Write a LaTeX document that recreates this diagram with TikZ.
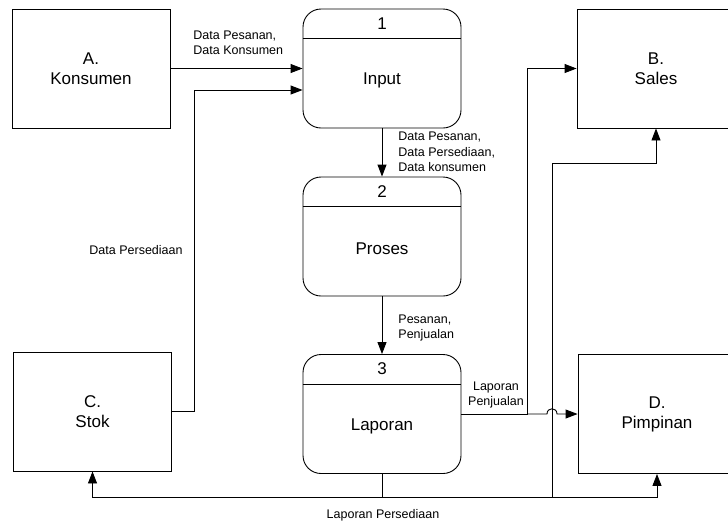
\documentclass[tikz,border=0pt]{standalone}
\usepackage{fontspec}
\setmainfont{Liberation Sans}
\usetikzlibrary{arrows.meta}

\tikzset{
  entity/.style={draw, minimum width=158pt, minimum height=119pt, align=center, font=\fontsize{17}{20}\selectfont},
  proc/.style={draw, rounded corners=18pt, minimum width=158pt, minimum height=119pt},
  ptext/.style={font=\fontsize{17}{20}\selectfont},
  lbl/.style={inner sep=0pt, align=left, font=\fontsize{12.5}{15.5}\selectfont},
  flow/.style={-{Triangle[length=12pt,width=9pt]}}
}

\begin{document}
\begin{tikzpicture}[x=1pt, y=-1pt, line width=0.9pt]
    \useasboundingbox (0,0) rectangle (728,523);

    % External entities
    \node[entity] (konsumen) at (91,68.5) {A.\\Konsumen};
    \node[entity] (sales) at (656,68.5) {B.\\Sales};
    \node[entity] (stok) at (92.5,411.5) {C.\\Stok};
    \node[entity] (pimpinan) at (657,414) {D.\\Pimpinan};

    % Processes
    \foreach \num/\p/\txt/\y in {1/input/Input/68.5, 2/proses/Proses/236.5, 3/laporan/Laporan/414} {
        \node[proc] (\p) at (382,\y) {};
        \draw ([yshift=-30pt]\p.north west) -- ([yshift=-30pt]\p.north east);
        \node[ptext] (\p-num) at ([yshift=-15pt]\p.north) {\num};
        \node[ptext] (\p-txt) at ([yshift=-12pt]\p.center) {\txt};
    }

    % Bends
    \coordinate (s1) at (194,90);
    \coordinate (j1) at (527,414);
    \coordinate (bot) at (382,497);
    \coordinate (up) at (552,497);
    \coordinate (sb) at (552,163);

    % Data flows
    \draw[flow] (konsumen) -- (input);
    \draw[flow] (stok.east) -| (s1) -- (input.west |- s1);
    \draw[flow] (input) -- (proses);
    \draw[flow] (proses) -- (laporan);
    \draw[flow] (laporan.east) -- (j1) |- (sales.west);
    \draw[flow] (j1) -- ++(20,0) .. controls +(0,-7) and +(0,-7) .. ++(10,0) -- (pimpinan.west);
    \draw[flow] (laporan) -- (bot) -| (stok);
    \draw[flow] (bot) -| (pimpinan);
    \draw[flow] (up) -- (sb) -| (sales);

    % Labels
    \node[lbl, anchor=west] (l-kons) at (193,43) {Data Pesanan,\\Data Konsumen};
    \node[lbl, anchor=west] (l-input) at (398,152) {Data Pesanan,\\Data Persediaan,\\Data konsumen};
    \node[lbl, anchor=west] (l-proses) at (398,328) {Pesanan,\\Penjualan};
    \node[lbl, align=center] (l-jual) at (496,395) {Laporan\\Penjualan};
    \node[lbl] (l-stok) at (136,250) {Data Persediaan};
    \node[lbl] (l-sedia) at (383,515) {Laporan Persediaan};
\end{tikzpicture}
\end{document}
